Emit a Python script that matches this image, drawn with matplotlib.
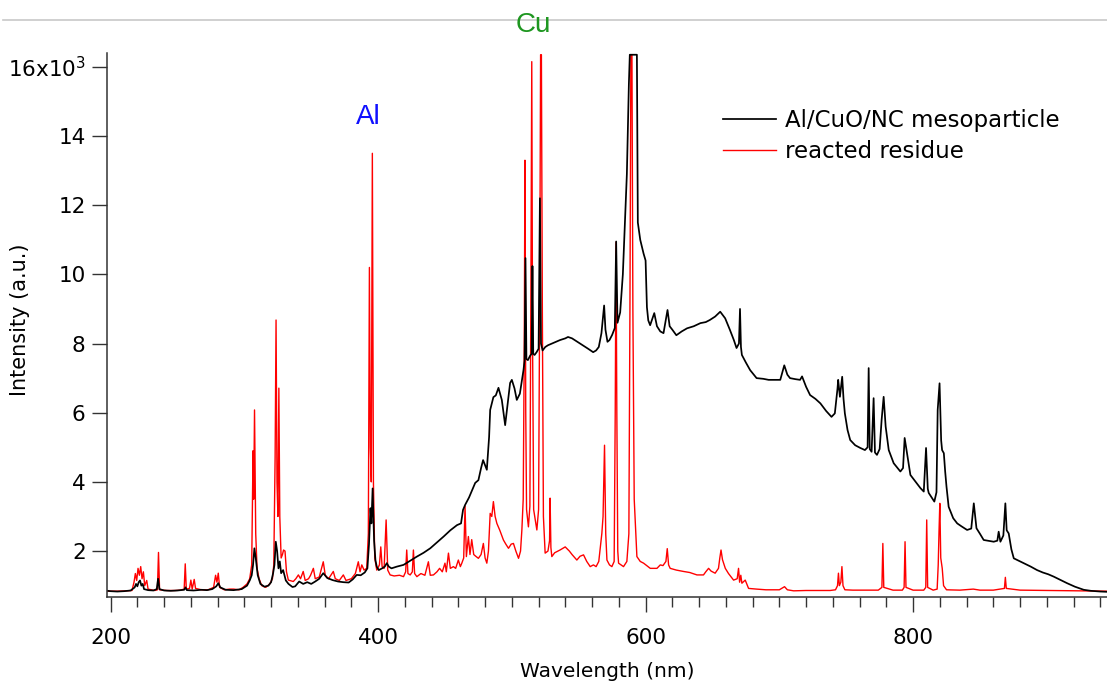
import matplotlib
matplotlib.use("Agg")
import matplotlib.pyplot as plt
from matplotlib.lines import Line2D
from matplotlib.ticker import MultipleLocator, FuncFormatter

# emission spectrum of the as-made mesoparticle (wavelength nm, intensity x10^3 a.u.)
meso_nm = [198, 200, 205, 210, 215, 218, 219, 220, 221, 222, 223, 224, 225, 228, 232,
           234.5, 235.5, 236.5, 240, 245, 250, 255, 256, 257, 262, 268, 272, 276, 279,
           280.5, 282, 286, 292, 298, 302, 304, 305.5, 306.5, 307.5, 308.5, 310, 312,
           315, 318, 320, 321.5, 322.5, 323.5, 324.5, 325.5, 326.5, 327.5, 329, 331,
           333, 336, 338, 341, 344, 347, 350, 353, 356, 359, 362, 366, 370, 374, 378,
           381, 384, 387, 390, 392, 393.2, 394.3, 395, 395.9, 397, 398, 399, 400.5,
           403, 405, 406.5, 408, 410, 414, 419, 424, 429, 434, 439, 444, 449, 454, 459,
           462, 463.5, 465, 468, 472.6, 475, 477, 478.5, 481.3, 483, 483.8, 486.2, 488,
           490, 492.5, 495, 497, 498.7, 500, 502, 503.7, 506, 508.7, 509.5, 510.2,
           510.9, 512, 513.7, 514.8, 515.4, 516, 517, 518.5, 520, 521, 521.8, 523, 525,
           527, 530, 533, 536, 540, 542, 545, 549, 553, 557, 560.8, 563, 565, 567,
           568.5, 569, 570, 571.5, 573, 575, 577, 578, 579, 581, 583, 586, 587.5, 588.2,
           593.5, 594.2, 596, 598.5, 600, 601, 602, 603.4, 606.5, 608.5, 611, 613.4,
           616.4, 618, 620, 623, 627, 631, 636, 641, 645, 648, 652, 655.8, 659.5, 663,
           666, 668, 669.8, 670.6, 671.3, 672, 675, 678.2, 683, 688, 692, 695.7, 700.7,
           703.7, 706, 708, 712, 715.5, 717, 720, 723, 727, 730.7, 735, 739, 741.5,
           743.5, 744, 745.3, 747, 748, 749, 751, 753, 756.7, 760.6, 764, 766, 766.8,
           767.6, 769, 770.5, 771.5, 773, 775, 776.5, 778, 779.5, 781.8, 785.5, 790.5,
           792.5, 793.7, 795.5, 798, 802, 805.5, 808, 809.7, 811, 811.7, 815.9, 817.5,
           818.4, 819.8, 821, 821.7, 823, 824, 825, 826.6, 830, 833, 836, 840.4, 843.5,
           845.4, 847.4, 850, 852.8, 856, 860.3, 863, 864, 865.3, 867.5, 869, 870,
           871.5, 873.5, 875.3, 879, 882.7, 888, 892.7, 897, 901, 905.2, 910, 915.2,
           921, 927.6, 933, 940, 946]
meso_int = [0.85, 0.84, 0.83, 0.84, 0.86, 0.95, 1.05, 0.98, 1.1, 1.15, 1.0, 1.05, 0.9,
            0.87, 0.86, 0.9, 1.2, 0.9, 0.86, 0.85, 0.86, 0.88, 0.95, 0.87, 0.86, 0.88,
            0.87, 0.9, 0.98, 1.07, 0.95, 0.88, 0.87, 0.9, 1.0, 1.15, 1.3, 1.6, 2.08,
            1.8, 1.3, 1.05, 0.97, 1.0, 1.1, 1.36, 1.6, 2.27, 2.0, 1.5, 1.7, 1.36, 1.45,
            1.15, 1.05, 0.96, 0.98, 1.12, 1.05, 1.1, 1.05, 1.12, 1.2, 1.36, 1.22, 1.16,
            1.12, 1.1, 1.09, 1.18, 1.31, 1.3, 1.38, 1.5, 2.2, 3.24, 2.8, 3.81, 2.3, 1.74,
            1.55, 1.45, 1.5, 1.55, 1.65, 1.55, 1.5, 1.55, 1.6, 1.72, 1.84, 1.95, 2.08,
            2.25, 2.42, 2.6, 2.75, 2.8, 3.19, 3.33, 3.55, 3.97, 4.05, 4.4, 4.63, 4.35,
            5.3, 6.08, 6.45, 6.5, 6.72, 6.37, 5.64, 6.3, 6.86, 6.95, 6.7, 6.37, 6.55,
            7.23, 7.5, 10.47, 7.55, 7.52, 7.65, 7.7, 10.24, 7.7, 7.67, 7.75, 7.85, 12.2,
            8.0, 7.8, 7.9, 7.95, 8.0, 8.05, 8.1, 8.15, 8.19, 8.15, 8.05, 7.95, 7.85,
            7.75, 7.8, 7.9, 8.3, 8.9, 9.1, 8.4, 8.05, 8.1, 8.25, 8.45, 10.95, 8.6, 8.9,
            10.0, 12.9, 15.5, 16.35, 16.35, 11.5, 11.0, 10.6, 10.4, 9.05, 8.67, 8.53,
            8.88, 8.5, 8.35, 8.3, 8.97, 8.5, 8.4, 8.24, 8.35, 8.44, 8.5, 8.59, 8.62,
            8.68, 8.78, 8.92, 8.73, 8.4, 8.1, 7.87, 8.0, 9.0, 7.9, 7.67, 7.45, 7.23,
            7.0, 6.98, 6.95, 6.95, 6.95, 7.37, 7.1, 7.0, 6.97, 6.95, 7.05, 6.75, 6.51,
            6.4, 6.27, 6.05, 5.88, 5.98, 6.7, 6.95, 6.46, 7.04, 6.4, 5.98, 5.5, 5.21,
            5.06, 4.98, 4.92, 5.0, 7.29, 4.95, 4.87, 6.42, 4.85, 4.78, 4.95, 5.8, 6.46,
            5.6, 4.92, 4.54, 4.3, 4.4, 5.27, 4.83, 4.2, 4.0, 3.82, 3.72, 4.98, 3.8,
            3.68, 3.43, 3.7, 6.08, 6.85, 5.2, 4.92, 4.83, 4.3, 3.86, 3.28, 2.95, 2.8,
            2.72, 2.61, 2.65, 3.38, 2.66, 2.5, 2.32, 2.3, 2.27, 2.3, 2.56, 2.27, 2.45,
            3.38, 2.6, 2.51, 2.05, 1.79, 1.72, 1.65, 1.55, 1.45, 1.38, 1.33, 1.26, 1.17,
            1.07, 0.97, 0.88, 0.85, 0.83, 0.82]

# emission spectrum of the reacted residue
resid_nm = [198, 205, 212, 216, 217.5, 218.5, 219.5, 220.5, 221.5, 222.5, 223.5, 224.5,
            225.5, 227, 228, 233, 235, 235.8, 236.6, 242, 248, 252, 255, 255.8, 256.6,
            259, 260, 261, 262.5, 263.5, 268, 273, 277, 278.5, 279.5, 280.5, 281.5, 285,
            289, 292, 296, 299, 302, 304, 305.5, 306.5, 307, 307.6, 308.5, 309.5, 311,
            313, 316, 319, 321, 322, 323, 323.7, 324.4, 325.1, 325.8, 326.5, 327.5,
            328.5, 329.3, 330.4, 331.5, 332.9, 336.6, 338.5, 340.4, 342, 344, 345.5,
            348, 349.5, 351.6, 353, 356, 359, 360.5, 363, 366.5, 368, 371, 374, 376,
            380, 383, 385.2, 386.5, 387.8, 389.5, 391.5, 392.7, 393.5, 394.2, 394.9,
            395.7, 396.5, 397.5, 399, 401, 402, 403, 404.5, 406, 407.2, 409, 412, 416,
            419, 420.6, 421.4, 422.3, 424, 425.6, 426.4, 427.3, 429, 432, 435, 437.6,
            439, 441.4, 444, 446, 448, 450, 451, 452.6, 454, 456.3, 458, 460, 461.5,
            462.6, 464, 465, 466, 467.5, 468.7, 470, 471.5, 473, 475, 477, 478.7, 480,
            481.3, 482.5, 483.8, 485, 486.2, 487.5, 488.8, 491, 493.7, 495.5, 497.5,
            499.5, 501.2, 503, 505, 506.5, 507.5, 508.5, 509.3, 509.8, 510.4, 511,
            512.4, 513.5, 514.3, 514.9, 515.5, 516.3, 518.7, 520, 520.9, 521.5, 522.1,
            522.8, 523.6, 524.9, 527, 528.2, 528.6, 529.2, 529.9, 532, 536, 539.9, 543,
            545, 548.6, 551, 553.6, 556, 558.6, 561, 563, 565, 567.3, 568.2, 569.3,
            570.2, 571.1, 573, 574.8, 576.5, 577.3, 577.9, 578.5, 579.2, 579.8, 583.5,
            586, 587.5, 588.3, 589, 589.8, 590.5, 591.5, 593.5, 596, 598.5, 603.5,
            608.5, 611, 613, 615.2, 616.2, 617.2, 618.4, 623, 628.4, 633, 638.4, 643.3,
            645, 647.1, 649, 652, 654.5, 655.5, 656.4, 657.5, 659.6, 662, 665.8, 668.5,
            669.5, 670.3, 671.2, 672, 674.5, 677, 683, 690, 695.8, 700, 703.9, 706,
            710.7, 720, 730, 738, 742, 743.5, 744.2, 744.9, 746, 746.8, 747.6, 749, 755,
            765, 774, 776.7, 777.4, 778.1, 785, 792, 793.3, 794, 794.7, 800, 808, 809.5,
            810.2, 810.9, 815, 818, 818.8, 819.4, 820, 820.7, 821.8, 822.8, 825, 835,
            845, 850, 860, 868.3, 869, 869.7, 880, 900, 920, 940, 946]
resid_int = [0.84, 0.84, 0.85, 0.86, 1.1, 1.35, 1.15, 1.5, 1.3, 1.55, 1.2, 1.4, 1.0,
             1.15, 0.9, 0.86, 0.88, 1.96, 0.88, 0.86, 0.86, 0.87, 0.9, 1.63, 0.9, 0.92,
             1.16, 0.9, 1.18, 0.92, 0.88, 0.88, 0.95, 1.3, 1.1, 1.36, 0.95, 0.88, 0.9,
             0.9, 0.88, 0.95, 1.05, 1.2, 1.6, 4.9, 3.5, 6.08, 2.5, 1.5, 1.2, 1.0, 0.95,
             1.05, 1.2, 1.6, 4.7, 8.68, 4.0, 3.0, 6.71, 3.0, 1.8, 1.9, 2.03, 2.0, 1.4,
             1.16, 1.12, 1.2, 1.31, 1.2, 1.41, 1.15, 1.2, 1.3, 1.5, 1.2, 1.25, 1.69, 1.3,
             1.2, 1.41, 1.2, 1.15, 1.31, 1.15, 1.2, 1.35, 1.69, 1.4, 1.6, 1.45, 1.5, 2.5,
             10.2, 5.0, 4.0, 13.5, 4.0, 1.8, 1.45, 1.6, 2.12, 1.55, 1.5, 2.9, 1.45, 1.31,
             1.28, 1.3, 1.26, 1.4, 2.03, 1.35, 1.31, 1.4, 2.03, 1.35, 1.26, 1.35, 1.3,
             1.69, 1.3, 1.31, 1.4, 1.5, 1.4, 1.65, 1.4, 1.94, 1.5, 1.55, 1.5, 1.74, 1.55,
             1.65, 1.8, 3.3, 1.84, 2.42, 1.9, 2.33, 1.9, 1.85, 1.79, 1.9, 2.22, 1.8, 1.65,
             2.0, 3.09, 3.0, 3.43, 3.0, 2.8, 2.6, 2.32, 2.2, 2.08, 2.2, 2.22, 2.0, 1.79,
             2.0, 2.61, 3.5, 8.0, 13.3, 6.0, 3.2, 2.7, 3.3, 10.0, 16.15, 8.0, 3.2, 2.61,
             3.2, 10.0, 16.35, 16.35, 9.0, 3.0, 1.94, 2.0, 2.3, 3.53, 2.1, 1.84, 1.95,
             2.03, 2.12, 2.0, 1.9, 1.74, 1.85, 1.89, 1.7, 1.55, 1.6, 1.55, 1.7, 2.51,
             3.0, 5.06, 2.5, 1.74, 1.6, 1.55, 1.7, 6.0, 10.93, 6.0, 2.0, 1.65, 1.55, 1.7,
             2.5, 9.0, 16.35, 16.35, 9.0, 3.5, 1.84, 1.7, 1.65, 1.5, 1.5, 1.6, 1.58, 1.7,
             2.07, 1.6, 1.5, 1.45, 1.41, 1.38, 1.31, 1.31, 1.4, 1.5, 1.42, 1.36, 1.5,
             1.8, 2.03, 1.75, 1.5, 1.35, 1.16, 1.2, 1.5, 1.1, 1.3, 1.07, 1.16, 0.92, 0.9,
             0.88, 0.88, 0.88, 0.97, 0.88, 0.85, 0.86, 0.86, 0.86, 0.88, 1.0, 1.36, 1.0,
             1.1, 1.55, 1.0, 0.88, 0.87, 0.87, 0.87, 0.95, 2.22, 0.95, 0.87, 0.87, 0.95,
             2.27, 0.95, 0.87, 0.87, 0.95, 2.9, 0.95, 0.87, 0.9, 1.6, 2.56, 3.38, 1.8,
             1.5, 1.0, 0.88, 0.87, 0.9, 0.87, 0.87, 0.92, 1.24, 0.92, 0.87, 0.86, 0.85,
             0.84, 0.84]

yticks = [2, 4, 6, 8, 10, 12, 14, 16]
xticks = [200, 400, 600, 800]

fig = plt.figure(figsize=(11.07, 6.92), dpi=100)
ax = fig.add_axes([0.0969, 0.1377, 0.9031, 0.7857])

ax.plot(resid_nm, resid_int, color="#ff0000", lw=1.0, label="reacted residue")
ax.plot(meso_nm, meso_int, color="black", lw=1.25, label="Al/CuO/NC mesoparticle")

ax.set_xlim(197.5, 945)
ax.set_ylim(0.68, 16.4)

for s in ["top", "right"]:
    ax.spines[s].set_visible(False)
for s in ["left", "bottom"]:
    ax.spines[s].set_linewidth(1.1)
    ax.spines[s].set_color("#333333")

ax.set_xticks(xticks)
ax.xaxis.set_minor_locator(MultipleLocator(20))
ax.set_yticks(yticks)
ax.yaxis.set_major_formatter(FuncFormatter(
    lambda v, p: "16x10$^{3}$" if v == 16 else "%d" % v))
ax.tick_params(which="major", direction="out", length=10.5, width=1.0,
               color="#333333", labelsize=15.5)
ax.tick_params(axis="y", which="major", pad=5)
ax.tick_params(axis="x", which="major", pad=12)
ax.tick_params(which="minor", direction="out", length=7, width=1.0, color="#333333")

ax.set_xlabel("Wavelength (nm)", fontsize=14.5, labelpad=10)
ax.set_ylabel("Intensity (a.u.)", fontsize=15)
ax.yaxis.set_label_coords(-0.077, 0.509)

# element markers above the strongest lines
fig.text(368 / 1107, 1 - 117 / 692, "Al", color="#1010ff", fontsize=20,
         family="Liberation Sans", ha="center", va="center")
fig.text(533 / 1107, 1 - 25 / 692, "Cu", color="#1e9620", fontsize=20,
         family="Liberation Sans", ha="center", va="center")

h, l = ax.get_legend_handles_labels()
ax.legend(h[::-1], l[::-1], loc="upper left", bbox_to_anchor=(0.616, 0.897),
          frameon=False, fontsize=16.5, handlelength=2.3, handletextpad=0.4,
          labelspacing=0.35, borderpad=0, borderaxespad=0)

fig.add_artist(Line2D([0.003, 1.0], [1 - 20 / 692, 1 - 20 / 692],
                      color="#c8c8c8", lw=1.2))

fig.savefig("out.png", dpi=100)
